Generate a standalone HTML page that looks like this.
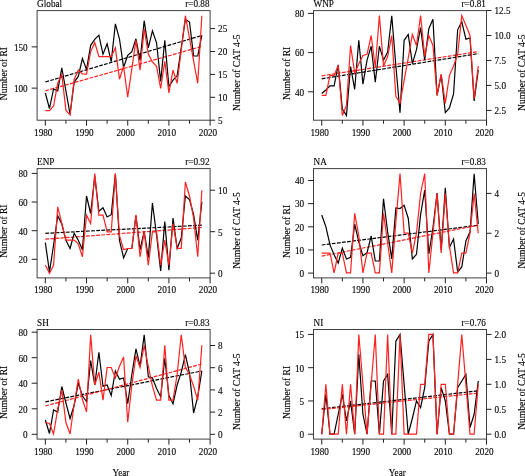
<!DOCTYPE html>
<html><head><meta charset="utf-8"><style>
html,body{margin:0;padding:0;background:#fff;width:525px;height:476px;overflow:hidden}
svg{display:block}
text{font-family:"Liberation Serif", serif;font-size:9.2px;fill:#000;stroke:#000;stroke-width:0.12px}
svg{will-change:transform}
</style></head><body>
<svg width="525" height="476" viewBox="0 0 525 476">
<rect x="37.10" y="10.60" width="173.00" height="109.60" fill="none" stroke="#404040" stroke-width="1.0"/>
<g transform="translate(37.10 6.60) scale(1 1.15)"><text x="0" y="0" text-anchor="start">Global</text></g>
<g transform="translate(209.50 6.70) scale(1 1.15)"><text x="0" y="0" text-anchor="end">r=0.88</text></g>
<line x1="45.34" y1="120.20" x2="45.34" y2="125.70" stroke="#202020" stroke-width="1.0"/>
<g transform="translate(43.24 135.60) scale(1 1.15)"><text x="0" y="0" text-anchor="middle">1980</text></g>
<line x1="65.93" y1="120.20" x2="65.93" y2="123.70" stroke="#202020" stroke-width="1.0"/>
<line x1="86.53" y1="120.20" x2="86.53" y2="125.70" stroke="#202020" stroke-width="1.0"/>
<g transform="translate(84.43 135.60) scale(1 1.15)"><text x="0" y="0" text-anchor="middle">1990</text></g>
<line x1="107.12" y1="120.20" x2="107.12" y2="123.70" stroke="#202020" stroke-width="1.0"/>
<line x1="127.72" y1="120.20" x2="127.72" y2="125.70" stroke="#202020" stroke-width="1.0"/>
<g transform="translate(125.62 135.60) scale(1 1.15)"><text x="0" y="0" text-anchor="middle">2000</text></g>
<line x1="148.31" y1="120.20" x2="148.31" y2="123.70" stroke="#202020" stroke-width="1.0"/>
<line x1="168.91" y1="120.20" x2="168.91" y2="125.70" stroke="#202020" stroke-width="1.0"/>
<g transform="translate(166.81 135.60) scale(1 1.15)"><text x="0" y="0" text-anchor="middle">2010</text></g>
<line x1="189.50" y1="120.20" x2="189.50" y2="123.70" stroke="#202020" stroke-width="1.0"/>
<line x1="210.10" y1="120.20" x2="210.10" y2="125.70" stroke="#202020" stroke-width="1.0"/>
<g transform="translate(208.00 135.60) scale(1 1.15)"><text x="0" y="0" text-anchor="middle">2020</text></g>
<line x1="31.70" y1="88.14" x2="37.10" y2="88.14" stroke="#202020" stroke-width="1.0"/>
<g transform="translate(27.70 91.94) scale(1 1.15)"><text x="0" y="0" text-anchor="end">100</text></g>
<line x1="31.70" y1="46.86" x2="37.10" y2="46.86" stroke="#202020" stroke-width="1.0"/>
<g transform="translate(27.70 50.66) scale(1 1.15)"><text x="0" y="0" text-anchor="end">150</text></g>
<line x1="210.10" y1="120.20" x2="215.10" y2="120.20" stroke="#202020" stroke-width="1.0"/>
<g transform="translate(218.10 124.00) scale(1 1.15)"><text x="0" y="0" text-anchor="start">5</text></g>
<line x1="210.10" y1="97.30" x2="215.10" y2="97.30" stroke="#202020" stroke-width="1.0"/>
<g transform="translate(218.10 101.10) scale(1 1.15)"><text x="0" y="0" text-anchor="start">10</text></g>
<line x1="210.10" y1="74.40" x2="215.10" y2="74.40" stroke="#202020" stroke-width="1.0"/>
<g transform="translate(218.10 78.20) scale(1 1.15)"><text x="0" y="0" text-anchor="start">15</text></g>
<line x1="210.10" y1="51.50" x2="215.10" y2="51.50" stroke="#202020" stroke-width="1.0"/>
<g transform="translate(218.10 55.30) scale(1 1.15)"><text x="0" y="0" text-anchor="start">20</text></g>
<line x1="210.10" y1="28.60" x2="215.10" y2="28.60" stroke="#202020" stroke-width="1.0"/>
<g transform="translate(218.10 32.40) scale(1 1.15)"><text x="0" y="0" text-anchor="start">25</text></g>
<g transform="translate(6.90 73.60) rotate(-90) scale(1 1.15)"><text x="0" y="0" text-anchor="middle" style="font-size:9.5px">Number of RI</text></g>
<g transform="translate(239.80 72.70) rotate(-90) scale(1 1.15)"><text x="0" y="0" text-anchor="middle" style="font-size:9.5px">Number of CAT 4-5</text></g>
<clipPath id="clip00"><rect x="37.10" y="10.60" width="173.00" height="109.60"/></clipPath>
<g clip-path="url(#clip00)">
<line x1="45.34" y1="82.00" x2="201.86" y2="35.50" stroke="#000" stroke-width="1.2" stroke-dasharray="3.8 1.3"/>
<line x1="45.34" y1="90.80" x2="201.86" y2="46.40" stroke="#ff2020" stroke-width="1.2" stroke-dasharray="3.8 1.3"/>
<polyline points="45.34,93.00 49.46,108.50 53.58,89.00 57.70,90.90 61.81,67.80 65.93,91.00 70.05,114.20 74.17,82.10 78.29,76.40 82.41,58.50 86.53,69.50 90.65,45.30 94.77,39.30 98.88,35.20 103.00,54.10 107.12,43.80 111.24,61.70 115.36,23.90 119.48,39.00 123.60,67.30 127.72,55.40 131.84,51.60 135.96,38.80 140.07,60.40 144.19,20.70 148.31,47.80 152.43,30.80 156.55,42.80 160.67,81.40 164.79,40.30 168.91,86.50 173.03,80.20 177.15,75.80 181.26,47.60 185.38,19.50 189.50,22.00 193.62,56.00 197.74,56.00 201.86,35.20" fill="none" stroke="#000" stroke-width="1.2" stroke-linejoin="miter"/>
<polyline points="45.34,110.70 49.46,110.70 53.58,106.00 57.70,83.30 61.81,74.50 65.93,110.40 70.05,114.90 74.17,79.50 78.29,70.10 82.41,73.90 86.53,74.10 90.65,51.60 94.77,42.50 98.88,56.70 103.00,56.70 107.12,56.70 111.24,56.70 115.36,47.80 119.48,79.20 123.60,66.30 127.72,97.20 131.84,68.60 135.96,40.30 140.07,70.10 144.19,28.90 148.31,54.10 152.43,62.00 156.55,66.30 160.67,88.40 164.79,61.30 168.91,92.80 173.03,70.10 177.15,83.30 181.26,50.00 185.38,15.70 189.50,38.20 193.62,60.80 197.74,83.30 201.86,15.70" fill="none" stroke="#ff2020" stroke-width="1.2" stroke-linejoin="miter"/>
</g>
<rect x="313.50" y="10.60" width="173.00" height="109.60" fill="none" stroke="#404040" stroke-width="1.0"/>
<g transform="translate(313.50 6.60) scale(1 1.15)"><text x="0" y="0" text-anchor="start">WNP</text></g>
<g transform="translate(485.90 6.70) scale(1 1.15)"><text x="0" y="0" text-anchor="end">r=0.81</text></g>
<line x1="321.74" y1="120.20" x2="321.74" y2="125.70" stroke="#202020" stroke-width="1.0"/>
<g transform="translate(319.64 135.60) scale(1 1.15)"><text x="0" y="0" text-anchor="middle">1980</text></g>
<line x1="342.33" y1="120.20" x2="342.33" y2="123.70" stroke="#202020" stroke-width="1.0"/>
<line x1="362.93" y1="120.20" x2="362.93" y2="125.70" stroke="#202020" stroke-width="1.0"/>
<g transform="translate(360.83 135.60) scale(1 1.15)"><text x="0" y="0" text-anchor="middle">1990</text></g>
<line x1="383.52" y1="120.20" x2="383.52" y2="123.70" stroke="#202020" stroke-width="1.0"/>
<line x1="404.12" y1="120.20" x2="404.12" y2="125.70" stroke="#202020" stroke-width="1.0"/>
<g transform="translate(402.02 135.60) scale(1 1.15)"><text x="0" y="0" text-anchor="middle">2000</text></g>
<line x1="424.71" y1="120.20" x2="424.71" y2="123.70" stroke="#202020" stroke-width="1.0"/>
<line x1="445.31" y1="120.20" x2="445.31" y2="125.70" stroke="#202020" stroke-width="1.0"/>
<g transform="translate(443.21 135.60) scale(1 1.15)"><text x="0" y="0" text-anchor="middle">2010</text></g>
<line x1="465.90" y1="120.20" x2="465.90" y2="123.70" stroke="#202020" stroke-width="1.0"/>
<line x1="486.50" y1="120.20" x2="486.50" y2="125.70" stroke="#202020" stroke-width="1.0"/>
<g transform="translate(484.40 135.60) scale(1 1.15)"><text x="0" y="0" text-anchor="middle">2020</text></g>
<line x1="308.10" y1="91.80" x2="313.50" y2="91.80" stroke="#202020" stroke-width="1.0"/>
<g transform="translate(304.10 95.60) scale(1 1.15)"><text x="0" y="0" text-anchor="end">40</text></g>
<line x1="308.10" y1="52.60" x2="313.50" y2="52.60" stroke="#202020" stroke-width="1.0"/>
<g transform="translate(304.10 56.40) scale(1 1.15)"><text x="0" y="0" text-anchor="end">60</text></g>
<line x1="308.10" y1="13.40" x2="313.50" y2="13.40" stroke="#202020" stroke-width="1.0"/>
<g transform="translate(304.10 17.20) scale(1 1.15)"><text x="0" y="0" text-anchor="end">80</text></g>
<line x1="486.50" y1="110.40" x2="491.50" y2="110.40" stroke="#202020" stroke-width="1.0"/>
<g transform="translate(494.50 114.20) scale(1 1.15)"><text x="0" y="0" text-anchor="start">2.5</text></g>
<line x1="486.50" y1="85.40" x2="491.50" y2="85.40" stroke="#202020" stroke-width="1.0"/>
<g transform="translate(494.50 89.20) scale(1 1.15)"><text x="0" y="0" text-anchor="start">5.0</text></g>
<line x1="486.50" y1="60.45" x2="491.50" y2="60.45" stroke="#202020" stroke-width="1.0"/>
<g transform="translate(494.50 64.25) scale(1 1.15)"><text x="0" y="0" text-anchor="start">7.5</text></g>
<line x1="486.50" y1="35.50" x2="491.50" y2="35.50" stroke="#202020" stroke-width="1.0"/>
<g transform="translate(494.50 39.30) scale(1 1.15)"><text x="0" y="0" text-anchor="start">10.0</text></g>
<line x1="486.50" y1="10.50" x2="491.50" y2="10.50" stroke="#202020" stroke-width="1.0"/>
<g transform="translate(494.50 14.30) scale(1 1.15)"><text x="0" y="0" text-anchor="start">12.5</text></g>
<g transform="translate(290.00 73.40) rotate(-90) scale(1 1.15)"><text x="0" y="0" text-anchor="middle" style="font-size:9.5px">Number of RI</text></g>
<g transform="translate(524.80 72.70) rotate(-90) scale(1 1.15)"><text x="0" y="0" text-anchor="middle" style="font-size:9.5px">Number of CAT 4-5</text></g>
<clipPath id="clip10"><rect x="313.50" y="10.60" width="173.00" height="109.60"/></clipPath>
<g clip-path="url(#clip10)">
<line x1="321.74" y1="78.80" x2="478.26" y2="53.60" stroke="#000" stroke-width="1.2" stroke-dasharray="3.8 1.3"/>
<line x1="321.74" y1="75.80" x2="478.26" y2="51.60" stroke="#ff2020" stroke-width="1.2" stroke-dasharray="3.8 1.3"/>
<polyline points="321.74,93.50 325.86,90.00 329.98,85.80 334.10,85.80 338.21,64.80 342.33,109.00 346.45,115.40 350.57,66.50 354.69,89.30 358.81,40.30 362.93,84.20 367.05,60.20 371.17,46.20 375.28,82.30 379.40,46.20 383.52,60.20 387.64,52.00 391.76,15.80 395.88,66.00 400.00,112.70 404.12,40.30 408.24,34.50 412.36,63.70 416.48,49.70 420.59,27.50 424.71,60.20 428.83,28.70 432.95,19.30 437.07,95.30 441.19,74.90 445.31,112.70 449.43,108.00 453.55,94.00 457.66,29.80 461.78,21.70 465.90,39.20 470.02,38.00 474.14,101.00 478.26,69.80" fill="none" stroke="#000" stroke-width="1.2" stroke-linejoin="miter"/>
<polyline points="321.74,95.40 325.86,95.40 329.98,75.40 334.10,75.40 338.21,65.40 342.33,115.40 346.45,105.40 350.57,45.50 354.69,73.00 358.81,63.70 362.93,55.50 367.05,54.30 371.17,35.50 375.28,67.20 379.40,15.50 383.52,66.00 387.64,56.60 391.76,35.50 395.88,96.20 400.00,103.20 404.12,80.60 408.24,58.00 412.36,34.50 416.48,45.50 420.59,15.50 424.71,56.60 428.83,35.50 432.95,45.50 437.07,95.40 441.19,74.20 445.31,103.30 449.43,75.30 453.55,66.00 457.66,54.30 461.78,15.50 465.90,25.20 470.02,35.50 474.14,98.70 478.26,66.00" fill="none" stroke="#ff2020" stroke-width="1.2" stroke-linejoin="miter"/>
</g>
<rect x="37.10" y="168.60" width="173.00" height="109.30" fill="none" stroke="#404040" stroke-width="1.0"/>
<g transform="translate(37.10 164.60) scale(1 1.15)"><text x="0" y="0" text-anchor="start">ENP</text></g>
<g transform="translate(209.50 164.70) scale(1 1.15)"><text x="0" y="0" text-anchor="end">r=0.92</text></g>
<line x1="45.34" y1="277.90" x2="45.34" y2="283.40" stroke="#202020" stroke-width="1.0"/>
<g transform="translate(43.24 293.30) scale(1 1.15)"><text x="0" y="0" text-anchor="middle">1980</text></g>
<line x1="65.93" y1="277.90" x2="65.93" y2="281.40" stroke="#202020" stroke-width="1.0"/>
<line x1="86.53" y1="277.90" x2="86.53" y2="283.40" stroke="#202020" stroke-width="1.0"/>
<g transform="translate(84.43 293.30) scale(1 1.15)"><text x="0" y="0" text-anchor="middle">1990</text></g>
<line x1="107.12" y1="277.90" x2="107.12" y2="281.40" stroke="#202020" stroke-width="1.0"/>
<line x1="127.72" y1="277.90" x2="127.72" y2="283.40" stroke="#202020" stroke-width="1.0"/>
<g transform="translate(125.62 293.30) scale(1 1.15)"><text x="0" y="0" text-anchor="middle">2000</text></g>
<line x1="148.31" y1="277.90" x2="148.31" y2="281.40" stroke="#202020" stroke-width="1.0"/>
<line x1="168.91" y1="277.90" x2="168.91" y2="283.40" stroke="#202020" stroke-width="1.0"/>
<g transform="translate(166.81 293.30) scale(1 1.15)"><text x="0" y="0" text-anchor="middle">2010</text></g>
<line x1="189.50" y1="277.90" x2="189.50" y2="281.40" stroke="#202020" stroke-width="1.0"/>
<line x1="210.10" y1="277.90" x2="210.10" y2="283.40" stroke="#202020" stroke-width="1.0"/>
<g transform="translate(208.00 293.30) scale(1 1.15)"><text x="0" y="0" text-anchor="middle">2020</text></g>
<line x1="31.70" y1="259.30" x2="37.10" y2="259.30" stroke="#202020" stroke-width="1.0"/>
<g transform="translate(27.70 263.10) scale(1 1.15)"><text x="0" y="0" text-anchor="end">20</text></g>
<line x1="31.70" y1="230.70" x2="37.10" y2="230.70" stroke="#202020" stroke-width="1.0"/>
<g transform="translate(27.70 234.50) scale(1 1.15)"><text x="0" y="0" text-anchor="end">40</text></g>
<line x1="31.70" y1="202.00" x2="37.10" y2="202.00" stroke="#202020" stroke-width="1.0"/>
<g transform="translate(27.70 205.80) scale(1 1.15)"><text x="0" y="0" text-anchor="end">60</text></g>
<line x1="31.70" y1="173.40" x2="37.10" y2="173.40" stroke="#202020" stroke-width="1.0"/>
<g transform="translate(27.70 177.20) scale(1 1.15)"><text x="0" y="0" text-anchor="end">80</text></g>
<line x1="210.10" y1="273.20" x2="215.10" y2="273.20" stroke="#202020" stroke-width="1.0"/>
<g transform="translate(218.10 277.00) scale(1 1.15)"><text x="0" y="0" text-anchor="start">0</text></g>
<line x1="210.10" y1="231.70" x2="215.10" y2="231.70" stroke="#202020" stroke-width="1.0"/>
<g transform="translate(218.10 235.50) scale(1 1.15)"><text x="0" y="0" text-anchor="start">5</text></g>
<line x1="210.10" y1="190.20" x2="215.10" y2="190.20" stroke="#202020" stroke-width="1.0"/>
<g transform="translate(218.10 194.00) scale(1 1.15)"><text x="0" y="0" text-anchor="start">10</text></g>
<g transform="translate(6.90 231.20) rotate(-90) scale(1 1.15)"><text x="0" y="0" text-anchor="middle" style="font-size:9.5px">Number of RI</text></g>
<g transform="translate(239.80 230.60) rotate(-90) scale(1 1.15)"><text x="0" y="0" text-anchor="middle" style="font-size:9.5px">Number of CAT 4-5</text></g>
<clipPath id="clip01"><rect x="37.10" y="168.60" width="173.00" height="109.30"/></clipPath>
<g clip-path="url(#clip01)">
<line x1="45.34" y1="233.30" x2="201.86" y2="225.20" stroke="#000" stroke-width="1.2" stroke-dasharray="3.8 1.3"/>
<line x1="45.34" y1="239.20" x2="201.86" y2="227.50" stroke="#ff2020" stroke-width="1.2" stroke-dasharray="3.8 1.3"/>
<polyline points="45.34,242.70 49.46,271.80 53.58,245.00 57.70,215.80 61.81,224.00 65.93,240.30 70.05,248.50 74.17,233.30 78.29,240.30 82.41,249.70 86.53,196.00 90.65,213.50 94.77,176.20 98.88,211.20 103.00,207.70 107.12,217.00 111.24,214.70 115.36,173.80 119.48,240.30 123.60,257.80 127.72,248.50 131.84,248.50 135.96,215.80 140.07,249.70 144.19,231.50 148.31,257.80 152.43,203.00 156.55,235.00 160.67,270.90 164.79,221.60 168.91,270.10 173.03,218.00 177.15,248.40 181.26,238.00 185.38,196.00 189.50,199.50 193.62,214.70 197.74,240.30 201.86,201.80" fill="none" stroke="#000" stroke-width="1.2" stroke-linejoin="miter"/>
<polyline points="45.34,265.10 49.46,273.40 53.58,265.10 57.70,206.80 61.81,223.50 65.93,240.10 70.05,240.10 74.17,240.10 78.29,243.80 82.41,256.80 86.53,215.20 90.65,223.50 94.77,173.60 98.88,215.20 103.00,215.20 107.12,231.80 111.24,231.80 115.36,173.60 119.48,235.70 123.60,249.70 127.72,248.50 131.84,248.50 135.96,214.70 140.07,256.80 144.19,231.80 148.31,265.10 152.43,231.80 156.55,231.80 160.67,265.10 164.79,240.10 168.91,265.10 173.03,223.50 177.15,248.40 181.26,248.40 185.38,182.00 189.50,196.00 193.62,218.20 197.74,256.70 201.86,190.20" fill="none" stroke="#ff2020" stroke-width="1.2" stroke-linejoin="miter"/>
</g>
<rect x="313.50" y="168.60" width="173.00" height="109.30" fill="none" stroke="#404040" stroke-width="1.0"/>
<g transform="translate(313.50 164.60) scale(1 1.15)"><text x="0" y="0" text-anchor="start">NA</text></g>
<g transform="translate(485.90 164.70) scale(1 1.15)"><text x="0" y="0" text-anchor="end">r=0.83</text></g>
<line x1="321.74" y1="277.90" x2="321.74" y2="283.40" stroke="#202020" stroke-width="1.0"/>
<g transform="translate(319.64 293.30) scale(1 1.15)"><text x="0" y="0" text-anchor="middle">1980</text></g>
<line x1="342.33" y1="277.90" x2="342.33" y2="281.40" stroke="#202020" stroke-width="1.0"/>
<line x1="362.93" y1="277.90" x2="362.93" y2="283.40" stroke="#202020" stroke-width="1.0"/>
<g transform="translate(360.83 293.30) scale(1 1.15)"><text x="0" y="0" text-anchor="middle">1990</text></g>
<line x1="383.52" y1="277.90" x2="383.52" y2="281.40" stroke="#202020" stroke-width="1.0"/>
<line x1="404.12" y1="277.90" x2="404.12" y2="283.40" stroke="#202020" stroke-width="1.0"/>
<g transform="translate(402.02 293.30) scale(1 1.15)"><text x="0" y="0" text-anchor="middle">2000</text></g>
<line x1="424.71" y1="277.90" x2="424.71" y2="281.40" stroke="#202020" stroke-width="1.0"/>
<line x1="445.31" y1="277.90" x2="445.31" y2="283.40" stroke="#202020" stroke-width="1.0"/>
<g transform="translate(443.21 293.30) scale(1 1.15)"><text x="0" y="0" text-anchor="middle">2010</text></g>
<line x1="465.90" y1="277.90" x2="465.90" y2="281.40" stroke="#202020" stroke-width="1.0"/>
<line x1="486.50" y1="277.90" x2="486.50" y2="283.40" stroke="#202020" stroke-width="1.0"/>
<g transform="translate(484.40 293.30) scale(1 1.15)"><text x="0" y="0" text-anchor="middle">2020</text></g>
<line x1="308.10" y1="273.10" x2="313.50" y2="273.10" stroke="#202020" stroke-width="1.0"/>
<g transform="translate(304.10 276.90) scale(1 1.15)"><text x="0" y="0" text-anchor="end">0</text></g>
<line x1="308.10" y1="249.95" x2="313.50" y2="249.95" stroke="#202020" stroke-width="1.0"/>
<g transform="translate(304.10 253.75) scale(1 1.15)"><text x="0" y="0" text-anchor="end">10</text></g>
<line x1="308.10" y1="226.80" x2="313.50" y2="226.80" stroke="#202020" stroke-width="1.0"/>
<g transform="translate(304.10 230.60) scale(1 1.15)"><text x="0" y="0" text-anchor="end">20</text></g>
<line x1="308.10" y1="203.65" x2="313.50" y2="203.65" stroke="#202020" stroke-width="1.0"/>
<g transform="translate(304.10 207.45) scale(1 1.15)"><text x="0" y="0" text-anchor="end">30</text></g>
<line x1="308.10" y1="180.50" x2="313.50" y2="180.50" stroke="#202020" stroke-width="1.0"/>
<g transform="translate(304.10 184.30) scale(1 1.15)"><text x="0" y="0" text-anchor="end">40</text></g>
<line x1="486.50" y1="273.10" x2="491.50" y2="273.10" stroke="#202020" stroke-width="1.0"/>
<g transform="translate(494.50 276.90) scale(1 1.15)"><text x="0" y="0" text-anchor="start">0</text></g>
<line x1="486.50" y1="233.25" x2="491.50" y2="233.25" stroke="#202020" stroke-width="1.0"/>
<g transform="translate(494.50 237.05) scale(1 1.15)"><text x="0" y="0" text-anchor="start">2</text></g>
<line x1="486.50" y1="193.40" x2="491.50" y2="193.40" stroke="#202020" stroke-width="1.0"/>
<g transform="translate(494.50 197.20) scale(1 1.15)"><text x="0" y="0" text-anchor="start">4</text></g>
<g transform="translate(290.00 231.50) rotate(-90) scale(1 1.15)"><text x="0" y="0" text-anchor="middle" style="font-size:9.5px">Number of RI</text></g>
<g transform="translate(524.80 230.30) rotate(-90) scale(1 1.15)"><text x="0" y="0" text-anchor="middle" style="font-size:9.5px">Number of CAT 4-5</text></g>
<clipPath id="clip11"><rect x="313.50" y="168.60" width="173.00" height="109.30"/></clipPath>
<g clip-path="url(#clip11)">
<line x1="321.74" y1="245.00" x2="478.26" y2="225.20" stroke="#000" stroke-width="1.2" stroke-dasharray="3.8 1.3"/>
<line x1="321.74" y1="256.20" x2="478.26" y2="225.20" stroke="#ff2020" stroke-width="1.2" stroke-dasharray="3.8 1.3"/>
<polyline points="321.74,215.00 325.86,226.60 329.98,244.90 334.10,254.80 338.21,263.10 342.33,248.20 346.45,259.00 350.57,257.30 354.69,224.10 358.81,242.00 362.93,255.80 367.05,252.60 371.17,236.00 375.28,261.00 379.40,261.00 383.52,198.70 387.64,231.90 391.76,258.90 395.88,208.00 400.00,208.50 404.12,205.30 408.24,218.20 412.36,259.00 416.48,254.30 420.59,214.70 424.71,190.20 428.83,254.00 432.95,228.00 437.07,193.00 441.19,250.00 445.31,187.80 449.43,247.50 453.55,239.00 457.66,272.00 461.78,267.00 465.90,241.00 470.02,232.00 474.14,173.80 478.26,224.00" fill="none" stroke="#000" stroke-width="1.2" stroke-linejoin="miter"/>
<polyline points="321.74,253.05 325.86,253.05 329.98,253.05 334.10,272.90 338.21,253.05 342.33,253.05 346.45,272.90 350.57,272.90 354.69,213.35 358.81,236.00 362.93,272.90 367.05,253.05 371.17,253.05 375.28,272.90 379.40,272.90 383.52,213.35 387.64,243.00 391.76,272.90 395.88,222.00 400.00,173.65 404.12,233.20 408.24,233.20 412.36,253.05 416.48,233.20 420.59,193.50 424.71,173.65 428.83,272.90 432.95,233.20 437.07,193.50 441.19,253.05 445.31,193.50 449.43,246.00 453.55,272.90 457.66,272.90 461.78,253.05 465.90,253.05 470.02,233.20 474.14,193.50 478.26,233.20" fill="none" stroke="#ff2020" stroke-width="1.2" stroke-linejoin="miter"/>
</g>
<rect x="37.10" y="329.50" width="173.00" height="109.60" fill="none" stroke="#404040" stroke-width="1.0"/>
<g transform="translate(37.10 325.50) scale(1 1.15)"><text x="0" y="0" text-anchor="start">SH</text></g>
<g transform="translate(209.50 325.60) scale(1 1.15)"><text x="0" y="0" text-anchor="end">r=0.83</text></g>
<line x1="45.34" y1="439.10" x2="45.34" y2="444.60" stroke="#202020" stroke-width="1.0"/>
<g transform="translate(43.24 454.50) scale(1 1.15)"><text x="0" y="0" text-anchor="middle">1980</text></g>
<line x1="65.93" y1="439.10" x2="65.93" y2="442.60" stroke="#202020" stroke-width="1.0"/>
<line x1="86.53" y1="439.10" x2="86.53" y2="444.60" stroke="#202020" stroke-width="1.0"/>
<g transform="translate(84.43 454.50) scale(1 1.15)"><text x="0" y="0" text-anchor="middle">1990</text></g>
<line x1="107.12" y1="439.10" x2="107.12" y2="442.60" stroke="#202020" stroke-width="1.0"/>
<line x1="127.72" y1="439.10" x2="127.72" y2="444.60" stroke="#202020" stroke-width="1.0"/>
<g transform="translate(125.62 454.50) scale(1 1.15)"><text x="0" y="0" text-anchor="middle">2000</text></g>
<line x1="148.31" y1="439.10" x2="148.31" y2="442.60" stroke="#202020" stroke-width="1.0"/>
<line x1="168.91" y1="439.10" x2="168.91" y2="444.60" stroke="#202020" stroke-width="1.0"/>
<g transform="translate(166.81 454.50) scale(1 1.15)"><text x="0" y="0" text-anchor="middle">2010</text></g>
<line x1="189.50" y1="439.10" x2="189.50" y2="442.60" stroke="#202020" stroke-width="1.0"/>
<line x1="210.10" y1="439.10" x2="210.10" y2="444.60" stroke="#202020" stroke-width="1.0"/>
<g transform="translate(208.00 454.50) scale(1 1.15)"><text x="0" y="0" text-anchor="middle">2020</text></g>
<line x1="31.70" y1="434.30" x2="37.10" y2="434.30" stroke="#202020" stroke-width="1.0"/>
<g transform="translate(27.70 438.10) scale(1 1.15)"><text x="0" y="0" text-anchor="end">0</text></g>
<line x1="31.70" y1="408.80" x2="37.10" y2="408.80" stroke="#202020" stroke-width="1.0"/>
<g transform="translate(27.70 412.60) scale(1 1.15)"><text x="0" y="0" text-anchor="end">20</text></g>
<line x1="31.70" y1="383.20" x2="37.10" y2="383.20" stroke="#202020" stroke-width="1.0"/>
<g transform="translate(27.70 387.00) scale(1 1.15)"><text x="0" y="0" text-anchor="end">40</text></g>
<line x1="31.70" y1="357.70" x2="37.10" y2="357.70" stroke="#202020" stroke-width="1.0"/>
<g transform="translate(27.70 361.50) scale(1 1.15)"><text x="0" y="0" text-anchor="end">60</text></g>
<line x1="31.70" y1="332.20" x2="37.10" y2="332.20" stroke="#202020" stroke-width="1.0"/>
<g transform="translate(27.70 336.00) scale(1 1.15)"><text x="0" y="0" text-anchor="end">80</text></g>
<line x1="210.10" y1="434.30" x2="215.10" y2="434.30" stroke="#202020" stroke-width="1.0"/>
<g transform="translate(218.10 438.10) scale(1 1.15)"><text x="0" y="0" text-anchor="start">0</text></g>
<line x1="210.10" y1="412.10" x2="215.10" y2="412.10" stroke="#202020" stroke-width="1.0"/>
<g transform="translate(218.10 415.90) scale(1 1.15)"><text x="0" y="0" text-anchor="start">2</text></g>
<line x1="210.10" y1="389.90" x2="215.10" y2="389.90" stroke="#202020" stroke-width="1.0"/>
<g transform="translate(218.10 393.70) scale(1 1.15)"><text x="0" y="0" text-anchor="start">4</text></g>
<line x1="210.10" y1="367.70" x2="215.10" y2="367.70" stroke="#202020" stroke-width="1.0"/>
<g transform="translate(218.10 371.50) scale(1 1.15)"><text x="0" y="0" text-anchor="start">6</text></g>
<line x1="210.10" y1="345.50" x2="215.10" y2="345.50" stroke="#202020" stroke-width="1.0"/>
<g transform="translate(218.10 349.30) scale(1 1.15)"><text x="0" y="0" text-anchor="start">8</text></g>
<g transform="translate(6.90 392.40) rotate(-90) scale(1 1.15)"><text x="0" y="0" text-anchor="middle" style="font-size:9.5px">Number of RI</text></g>
<g transform="translate(239.80 391.70) rotate(-90) scale(1 1.15)"><text x="0" y="0" text-anchor="middle" style="font-size:9.5px">Number of CAT 4-5</text></g>
<g transform="translate(120.90 476.30) scale(1 1.15)"><text x="0" y="0" text-anchor="middle">Year</text></g>
<clipPath id="clip02"><rect x="37.10" y="329.50" width="173.00" height="109.60"/></clipPath>
<g clip-path="url(#clip02)">
<line x1="45.34" y1="401.80" x2="201.86" y2="371.00" stroke="#000" stroke-width="1.2" stroke-dasharray="3.8 1.3"/>
<line x1="45.34" y1="406.00" x2="201.86" y2="364.00" stroke="#ff2020" stroke-width="1.2" stroke-dasharray="3.8 1.3"/>
<polyline points="45.34,420.00 49.46,433.50 53.58,410.00 57.70,412.00 61.81,386.50 65.93,403.00 70.05,418.50 74.17,405.30 78.29,383.00 82.41,396.00 86.53,401.50 90.65,360.50 94.77,385.00 98.88,352.30 103.00,386.20 107.12,385.00 111.24,395.50 115.36,371.00 119.48,379.20 123.60,378.00 127.72,403.70 131.84,374.50 135.96,348.80 140.07,366.30 144.19,334.80 148.31,376.80 152.43,378.00 156.55,388.50 160.67,396.70 164.79,358.20 168.91,395.50 173.03,403.70 177.15,385.00 181.26,372.20 185.38,354.70 189.50,373.30 193.62,413.00 197.74,396.70 201.86,371.00" fill="none" stroke="#000" stroke-width="1.2" stroke-linejoin="miter"/>
<polyline points="45.34,422.30 49.46,423.50 53.58,434.00 57.70,409.00 61.81,390.00 65.93,422.50 70.05,434.00 74.17,404.50 78.29,379.00 82.41,399.50 86.53,411.90 90.65,334.80 94.77,385.00 98.88,372.20 103.00,400.20 107.12,367.50 111.24,367.50 115.36,378.00 119.48,366.30 123.60,357.00 127.72,422.30 131.84,385.00 135.96,355.80 140.07,367.50 144.19,345.30 148.31,366.30 152.43,386.20 156.55,400.20 160.67,400.20 164.79,345.30 168.91,400.20 173.03,400.20 177.15,374.50 181.26,334.80 185.38,367.50 189.50,374.50 193.62,386.20 197.74,400.20 201.86,345.30" fill="none" stroke="#ff2020" stroke-width="1.2" stroke-linejoin="miter"/>
</g>
<rect x="313.50" y="329.50" width="173.00" height="109.60" fill="none" stroke="#404040" stroke-width="1.0"/>
<g transform="translate(313.50 325.50) scale(1 1.15)"><text x="0" y="0" text-anchor="start">NI</text></g>
<g transform="translate(485.90 325.60) scale(1 1.15)"><text x="0" y="0" text-anchor="end">r=0.76</text></g>
<line x1="321.74" y1="439.10" x2="321.74" y2="444.60" stroke="#202020" stroke-width="1.0"/>
<g transform="translate(319.64 454.50) scale(1 1.15)"><text x="0" y="0" text-anchor="middle">1980</text></g>
<line x1="342.33" y1="439.10" x2="342.33" y2="442.60" stroke="#202020" stroke-width="1.0"/>
<line x1="362.93" y1="439.10" x2="362.93" y2="444.60" stroke="#202020" stroke-width="1.0"/>
<g transform="translate(360.83 454.50) scale(1 1.15)"><text x="0" y="0" text-anchor="middle">1990</text></g>
<line x1="383.52" y1="439.10" x2="383.52" y2="442.60" stroke="#202020" stroke-width="1.0"/>
<line x1="404.12" y1="439.10" x2="404.12" y2="444.60" stroke="#202020" stroke-width="1.0"/>
<g transform="translate(402.02 454.50) scale(1 1.15)"><text x="0" y="0" text-anchor="middle">2000</text></g>
<line x1="424.71" y1="439.10" x2="424.71" y2="442.60" stroke="#202020" stroke-width="1.0"/>
<line x1="445.31" y1="439.10" x2="445.31" y2="444.60" stroke="#202020" stroke-width="1.0"/>
<g transform="translate(443.21 454.50) scale(1 1.15)"><text x="0" y="0" text-anchor="middle">2010</text></g>
<line x1="465.90" y1="439.10" x2="465.90" y2="442.60" stroke="#202020" stroke-width="1.0"/>
<line x1="486.50" y1="439.10" x2="486.50" y2="444.60" stroke="#202020" stroke-width="1.0"/>
<g transform="translate(484.40 454.50) scale(1 1.15)"><text x="0" y="0" text-anchor="middle">2020</text></g>
<line x1="308.10" y1="434.20" x2="313.50" y2="434.20" stroke="#202020" stroke-width="1.0"/>
<g transform="translate(304.10 438.00) scale(1 1.15)"><text x="0" y="0" text-anchor="end">0</text></g>
<line x1="308.10" y1="400.95" x2="313.50" y2="400.95" stroke="#202020" stroke-width="1.0"/>
<g transform="translate(304.10 404.75) scale(1 1.15)"><text x="0" y="0" text-anchor="end">5</text></g>
<line x1="308.10" y1="367.70" x2="313.50" y2="367.70" stroke="#202020" stroke-width="1.0"/>
<g transform="translate(304.10 371.50) scale(1 1.15)"><text x="0" y="0" text-anchor="end">10</text></g>
<line x1="308.10" y1="334.45" x2="313.50" y2="334.45" stroke="#202020" stroke-width="1.0"/>
<g transform="translate(304.10 338.25) scale(1 1.15)"><text x="0" y="0" text-anchor="end">15</text></g>
<line x1="486.50" y1="434.20" x2="491.50" y2="434.20" stroke="#202020" stroke-width="1.0"/>
<g transform="translate(494.50 438.00) scale(1 1.15)"><text x="0" y="0" text-anchor="start">0.0</text></g>
<line x1="486.50" y1="409.30" x2="491.50" y2="409.30" stroke="#202020" stroke-width="1.0"/>
<g transform="translate(494.50 413.10) scale(1 1.15)"><text x="0" y="0" text-anchor="start">0.5</text></g>
<line x1="486.50" y1="384.30" x2="491.50" y2="384.30" stroke="#202020" stroke-width="1.0"/>
<g transform="translate(494.50 388.10) scale(1 1.15)"><text x="0" y="0" text-anchor="start">1.0</text></g>
<line x1="486.50" y1="359.40" x2="491.50" y2="359.40" stroke="#202020" stroke-width="1.0"/>
<g transform="translate(494.50 363.20) scale(1 1.15)"><text x="0" y="0" text-anchor="start">1.5</text></g>
<line x1="486.50" y1="334.45" x2="491.50" y2="334.45" stroke="#202020" stroke-width="1.0"/>
<g transform="translate(494.50 338.25) scale(1 1.15)"><text x="0" y="0" text-anchor="start">2.0</text></g>
<g transform="translate(290.00 392.50) rotate(-90) scale(1 1.15)"><text x="0" y="0" text-anchor="middle" style="font-size:9.5px">Number of RI</text></g>
<g transform="translate(524.80 391.50) rotate(-90) scale(1 1.15)"><text x="0" y="0" text-anchor="middle" style="font-size:9.5px">Number of CAT 4-5</text></g>
<g transform="translate(397.30 476.30) scale(1 1.15)"><text x="0" y="0" text-anchor="middle">Year</text></g>
<clipPath id="clip12"><rect x="313.50" y="329.50" width="173.00" height="109.60"/></clipPath>
<g clip-path="url(#clip12)">
<line x1="321.74" y1="408.80" x2="478.26" y2="390.80" stroke="#000" stroke-width="1.2" stroke-dasharray="3.8 1.3"/>
<line x1="321.74" y1="409.50" x2="478.26" y2="393.10" stroke="#ff2020" stroke-width="1.2" stroke-dasharray="3.8 1.3"/>
<polyline points="321.74,434.20 325.86,394.30 329.98,434.20 334.10,434.20 338.21,414.25 342.33,394.30 346.45,420.90 350.57,400.95 354.69,434.20 358.81,354.40 362.93,414.25 367.05,434.20 371.17,381.00 375.28,381.00 379.40,434.20 383.52,381.00 387.64,374.35 391.76,434.20 395.88,341.10 400.00,334.45 404.12,384.32 408.24,434.20 412.36,418.24 416.48,400.95 420.59,407.60 424.71,387.65 428.83,341.10 432.95,334.45 437.07,434.20 441.19,387.65 445.31,400.95 449.43,434.20 453.55,434.20 457.66,387.65 461.78,381.00 465.90,374.35 470.02,427.55 474.14,414.25 478.26,381.00" fill="none" stroke="#000" stroke-width="1.2" stroke-linejoin="miter"/>
<polyline points="321.74,434.20 325.86,384.32 329.98,434.20 334.10,434.20 338.21,434.20 342.33,384.32 346.45,434.20 350.57,384.32 354.69,434.20 358.81,334.45 362.93,384.32 367.05,434.20 371.17,384.32 375.28,334.45 379.40,434.20 383.52,434.20 387.64,334.45 391.76,434.20 395.88,434.20 400.00,334.45 404.12,434.20 408.24,434.20 412.36,434.20 416.48,434.20 420.59,384.32 424.71,384.32 428.83,334.45 432.95,334.45 437.07,434.20 441.19,384.32 445.31,384.32 449.43,434.20 453.55,434.20 457.66,384.32 461.78,334.45 465.90,384.32 470.02,434.20 474.14,434.20 478.26,384.32" fill="none" stroke="#ff2020" stroke-width="1.2" stroke-linejoin="miter"/>
</g>
</svg></body></html>
